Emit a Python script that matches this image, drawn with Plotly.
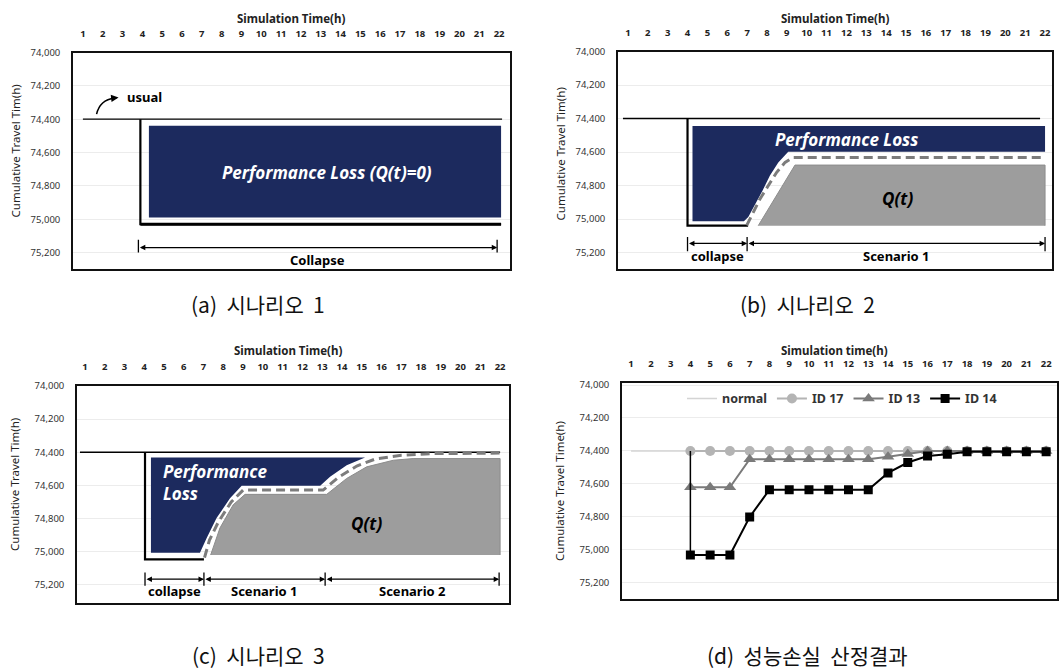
import plotly.graph_objects as go

# ---------------- data ----------------
x_hours = list(range(1, 23))
y_levels = [74000, 74200, 74400, 74600, 74800, 75000, 75200]
usual_level = 74400

# (a) scenario 1
a_usual_x = [1.0, 22.15]
a_collapse_x = [3.9, 3.9, 22.1]
a_collapse_y = [74400, 75030, 75030]
a_loss_x = [4.33, 22.1, 22.1, 4.33]
a_loss_y = [74440, 74440, 74990, 74990]
a_dim_x = [3.8, 21.9]
a_dim_labels = ["Collapse"]

# (b) scenario 2
b_usual_x = [0.75, 21.75]
b_collapse_x = [4.0, 4.0, 7.05]
b_collapse_y = [74400, 75040, 75040]
b_loss_x = [4.25, 22.0, 22.0, 9.07, 8.57, 8.15, 7.78, 7.39, 7.06, 6.84, 4.25]
b_loss_y = [74445, 74445, 74598, 74598, 74662, 74741, 74830, 74919, 74988, 75014, 75014]
b_path_x = [6.98, 7.31, 7.65, 8.07, 8.49, 8.91, 9.32, 22.0]
b_path_y = [75038, 74959, 74880, 74800, 74721, 74662, 74633, 74633]
b_q_x = [7.56, 9.41, 22.0, 22.0]
b_q_y = [75040, 74678, 74678, 75040]
b_dim_x = [4.0, 7.0, 22.0]
b_dim_labels = ["collapse", "Scenario 1"]

# (c) scenario 3
c_usual_x = [0.75, 22.0]
c_collapse_x = [4.04, 4.04, 7.02]
c_collapse_y = [74400, 75046, 75046]
c_loss_x = [4.34, 15.17, 14.24, 13.4, 12.9, 8.93, 8.34, 7.66, 7.16, 6.82, 4.34]
c_loss_y = [74432, 74432, 74478, 74548, 74602, 74602, 74678, 74797, 74917, 75006, 75006]
c_path_x = [7.05, 7.3, 7.75, 8.4, 9.0, 13.05, 13.8, 14.75, 15.7, 17.0, 18.6, 22.0]
c_path_y = [75036, 74930, 74820, 74700, 74628, 74628, 74553, 74483, 74440, 74418, 74408, 74405]
c_q_x = [7.36, 7.83, 8.5, 9.1, 13.23, 14.24, 15.25, 16.6, 17.6, 22.0, 22.0]
c_q_y = [75020, 74857, 74717, 74654, 74654, 74558, 74488, 74448, 74438, 74438, 75020]
c_dim_x = [4.04, 7.02, 13.15, 21.95]
c_dim_labels = ["collapse", "Scenario 1", "Scenario 2"]

# (d) results
d_normal = [74400] * 22
d_id_x = list(range(4, 23))
d_id17 = [74400] * 19
d_id13 = [74620, 74620, 74620, 74450, 74450, 74450, 74450, 74450, 74450, 74450,
          74435, 74418, 74400, 74400, 74400, 74400, 74400, 74400, 74400]
d_id14 = [75030, 75030, 75030, 74800, 74635, 74635, 74635, 74635, 74635, 74635,
          74533, 74470, 74430, 74420, 74405, 74405, 74405, 74405, 74405]

captions = ["(a)  시나리오  1", "(b)  시나리오  2", "(c)  시나리오  3", "(d)  성능손실  산정결과"]

# ---------------- style ----------------
NAVY = "#1c2a5e"
QGRAY = "#9d9d9d"
DASH = "#7c7c7c"
FONT = "Noto Sans"
W, H = 1063, 671

def px_x(p):
    return p / W

def px_y(p):
    return 1 - p / H

panels = [
    dict(xd=[px_x(73), px_x(510)], yd=[px_y(265), px_y(46)], xr=[0.5, 22.55], yr=[75300, 74000],
         xt="Simulation Time(h)", yt="Cumulative Travel Tim(h)", tx=px_x(291), ty=px_y(12),
         yx=px_x(15), yy=px_y(146)),
    dict(xd=[px_x(618), px_x(1052)], yd=[px_y(265), px_y(45)], xr=[0.5, 22.35], yr=[75300, 74000],
         xt="Simulation Time(h)", yt="Cumulative Travel Tim(h)", tx=px_x(835), ty=px_y(12),
         yx=px_x(560), yy=px_y(149)),
    dict(xd=[px_x(77), px_x(509)], yd=[px_y(602), px_y(383)], xr=[0.6, 22.45], yr=[75308, 74000],
         xt="Simulation Time(h)", yt="Cumulative Travel Tim(h)", tx=px_x(288), ty=px_y(347),
         yx=px_x(15), yy=px_y(483)),
    dict(xd=[px_x(622), px_x(1057)], yd=[px_y(598), px_y(380)], xr=[0.54, 22.55], yr=[75296, 73988],
         xt="Simulation time(h)", yt="Cumulative Travel Time(h)", tx=px_x(834), ty=px_y(347),
         yx=px_x(560), yy=px_y(489)),
]

fig = go.Figure()
annotations = []

def ax_names(i):
    s = "" if i == 1 else str(i)
    return "x" + s, "y" + s

def add_line(i, xs, ys, color="black", width=1.5, dash=None):
    xr, yr = ax_names(i)
    fig.add_trace(go.Scatter(x=xs, y=ys, mode="lines", xaxis=xr, yaxis=yr, showlegend=False,
                             hoverinfo="skip", line=dict(color=color, width=width, dash=dash)))

def add_poly(i, xs, ys, color, outline=None):
    xr, yr = ax_names(i)
    fig.add_trace(go.Scatter(x=xs, y=ys, mode="lines", fill="toself", fillcolor=color,
                             xaxis=xr, yaxis=yr, showlegend=False, hoverinfo="skip",
                             line=dict(color=outline or color, width=1 if outline else 0)))

def add_text(i, x, y, text, size=13, color="black", italic=False, anchor="center"):
    xr, yr = ax_names(i)
    annotations.append(dict(x=x, y=y, xref=xr, yref=yr, text=text, showarrow=False, xanchor=anchor,
                            yanchor="middle", align=anchor if anchor != "center" else "center",
                            font=dict(family=FONT, size=size, color=color, weight="bold",
                                      style="italic" if italic else "normal")))

def add_dims(i, ticks, labels, y0, y1, ya, yl):
    xr, yr = ax_names(i)
    for t in ticks:
        add_line(i, [t, t], [y0, y1], width=1.3)
    for k in range(len(ticks) - 1):
        annotations.append(dict(x=ticks[k + 1], y=ya, ax=ticks[k], ay=ya, xref=xr, yref=yr,
                                axref=xr, ayref=yr, text="", showarrow=True, arrowhead=2,
                                arrowside="end+start", arrowsize=0.9, arrowwidth=1.2, arrowcolor="black"))
        add_text(i, (ticks[k] + ticks[k + 1]) / 2, yl, labels[k], size=13)

# (a)
add_line(1, a_usual_x, [usual_level] * 2, width=1.3)
add_line(1, a_collapse_x, a_collapse_y, width=2.2)
add_line(1, a_collapse_x[1:], a_collapse_y[1:], width=3.2)
add_poly(1, a_loss_x, a_loss_y, NAVY)
add_text(1, 13.3, 74720, "Performance Loss (Q(t)=0)", size=17, color="white", italic=True)
add_text(1, 3.1, 74265, "usual", size=13, anchor="left")
add_dims(1, a_dim_x, a_dim_labels, 75123, 75200, 75170, 75245)

# (b)
add_line(2, b_usual_x, [usual_level] * 2, width=1.3)
add_line(2, b_collapse_x, b_collapse_y, width=2.2)
add_poly(2, b_loss_x, b_loss_y, NAVY)
add_poly(2, b_q_x, b_q_y, QGRAY, outline="#8c8c8c")
add_line(2, b_path_x, b_path_y, color=DASH, width=3, dash="9px,5px")
add_text(2, 12.0, 74526, "Performance Loss", size=17, color="white", italic=True)
add_text(2, 14.6, 74880, "Q(t)", size=17, italic=True)
add_dims(2, b_dim_x, b_dim_labels, 75107, 75192, 75146, 75222)

# (c)
add_line(3, c_usual_x, [usual_level] * 2, width=1.3)
add_line(3, c_collapse_x, c_collapse_y, width=2.2)
add_poly(3, c_loss_x, c_loss_y, NAVY)
add_poly(3, c_q_x, c_q_y, QGRAY, outline="#8c8c8c")
add_line(3, c_path_x, c_path_y, color=DASH, width=3, dash="9px,5px")
add_text(3, 4.85, 74585, "Performance<br>Loss", size=17, color="white", italic=True, anchor="left")
add_text(3, 15.25, 74827, "Q(t)", size=17, italic=True)
add_dims(3, c_dim_x, c_dim_labels, 75126, 75206, 75166, 75238)

# (d)
fig.add_trace(go.Scatter(x=x_hours, y=d_normal, mode="lines", name="normal", xaxis="x4", yaxis="y4",
                         line=dict(color="#d4d4d4", width=1.5)))
fig.add_trace(go.Scatter(x=d_id_x, y=d_id17, mode="lines+markers", name="ID 17", xaxis="x4", yaxis="y4",
                         line=dict(color="#b4b4b4", width=2), marker=dict(symbol="circle", size=10, color="#b4b4b4")))
fig.add_trace(go.Scatter(x=d_id_x, y=d_id13, mode="lines+markers", name="ID 13", xaxis="x4", yaxis="y4",
                         line=dict(color="#7a7a7a", width=2), marker=dict(symbol="triangle-up", size=11, color="#7a7a7a")))
fig.add_trace(go.Scatter(x=[d_id_x[0], d_id_x[0]], y=[usual_level, d_id14[0]], mode="lines", showlegend=False,
                         xaxis="x4", yaxis="y4", hoverinfo="skip", line=dict(color="black", width=1.5)))
fig.add_trace(go.Scatter(x=d_id_x, y=d_id14, mode="lines+markers", name="ID 14", xaxis="x4", yaxis="y4",
                         line=dict(color="black", width=2), marker=dict(symbol="square", size=9, color="black")))

# usual curved arrow in (a)
fig.add_shape(type="path", xref="x", yref="y", path="M 1.69,74370 Q 1.85,74285 2.6,74273",
              line=dict(color="black", width=1.5))
annotations.append(dict(x=2.8, y=74270, ax=2.5, ay=74274, xref="x", yref="y", axref="x", ayref="y",
                        text="", showarrow=True, arrowhead=2, arrowsize=1, arrowwidth=1.5, arrowcolor="black"))

layout = dict(width=W, height=H, margin=dict(l=0, r=0, t=0, b=0), paper_bgcolor="white", plot_bgcolor="white",
              font=dict(family=FONT, color="#222"), showlegend=True,
              legend=dict(orientation="h", x=px_x(842), y=px_y(396), xanchor="center", yanchor="middle",
                          bgcolor="rgba(0,0,0,0)", font=dict(family=FONT, size=12.5, weight="bold", color="#333"),
                          itemwidth=30, tracegroupgap=0))

for n, p in enumerate(panels, start=1):
    s = "" if n == 1 else str(n)
    layout["xaxis" + s] = dict(domain=p["xd"], range=p["xr"], side="top", anchor="y" + s, tickvals=x_hours,
                               showline=True, mirror=True, linecolor="#111", linewidth=1.6, showgrid=False,
                               zeroline=False, ticks="", ticklabelstandoff=10, fixedrange=True,
                               tickfont=dict(family=FONT, size=9.5, weight="bold", color="#222"))
    layout["yaxis" + s] = dict(domain=p["yd"], range=p["yr"], anchor="x" + s, tickvals=y_levels,
                               tickformat=",", showline=True, mirror=True, linecolor="#111", linewidth=1.6,
                               showgrid=True, gridcolor="#ececec", gridwidth=1, zeroline=False, ticks="",
                               ticklabelstandoff=9, fixedrange=True,
                               tickfont=dict(family=FONT, size=9.5, color="#333"))
    annotations.append(dict(x=p["tx"], y=p["ty"], xref="paper", yref="paper", text=p["xt"], showarrow=False,
                            xanchor="center", yanchor="middle",
                            font=dict(family=FONT, size=11.5, weight="bold", color="#222")))
    annotations.append(dict(x=p["yx"], y=p["yy"], xref="paper", yref="paper",
                            text=p["yt"], textangle=-90, showarrow=False, xanchor="center", yanchor="middle",
                            font=dict(family=FONT, size=11.5, color="#222")))

cap_pos = [(258, 300), (807, 300), (258, 655), (807, 655)]
for text, (cx, cy) in zip(captions, cap_pos):
    annotations.append(dict(x=px_x(cx), y=px_y(cy), xref="paper", yref="paper", text=text, showarrow=False,
                            xanchor="center", yanchor="middle",
                            font=dict(family="Noto Sans CJK KR", size=21, color="#111")))

layout["annotations"] = annotations
fig.update_layout(**layout)
fig.write_html("out.html")
